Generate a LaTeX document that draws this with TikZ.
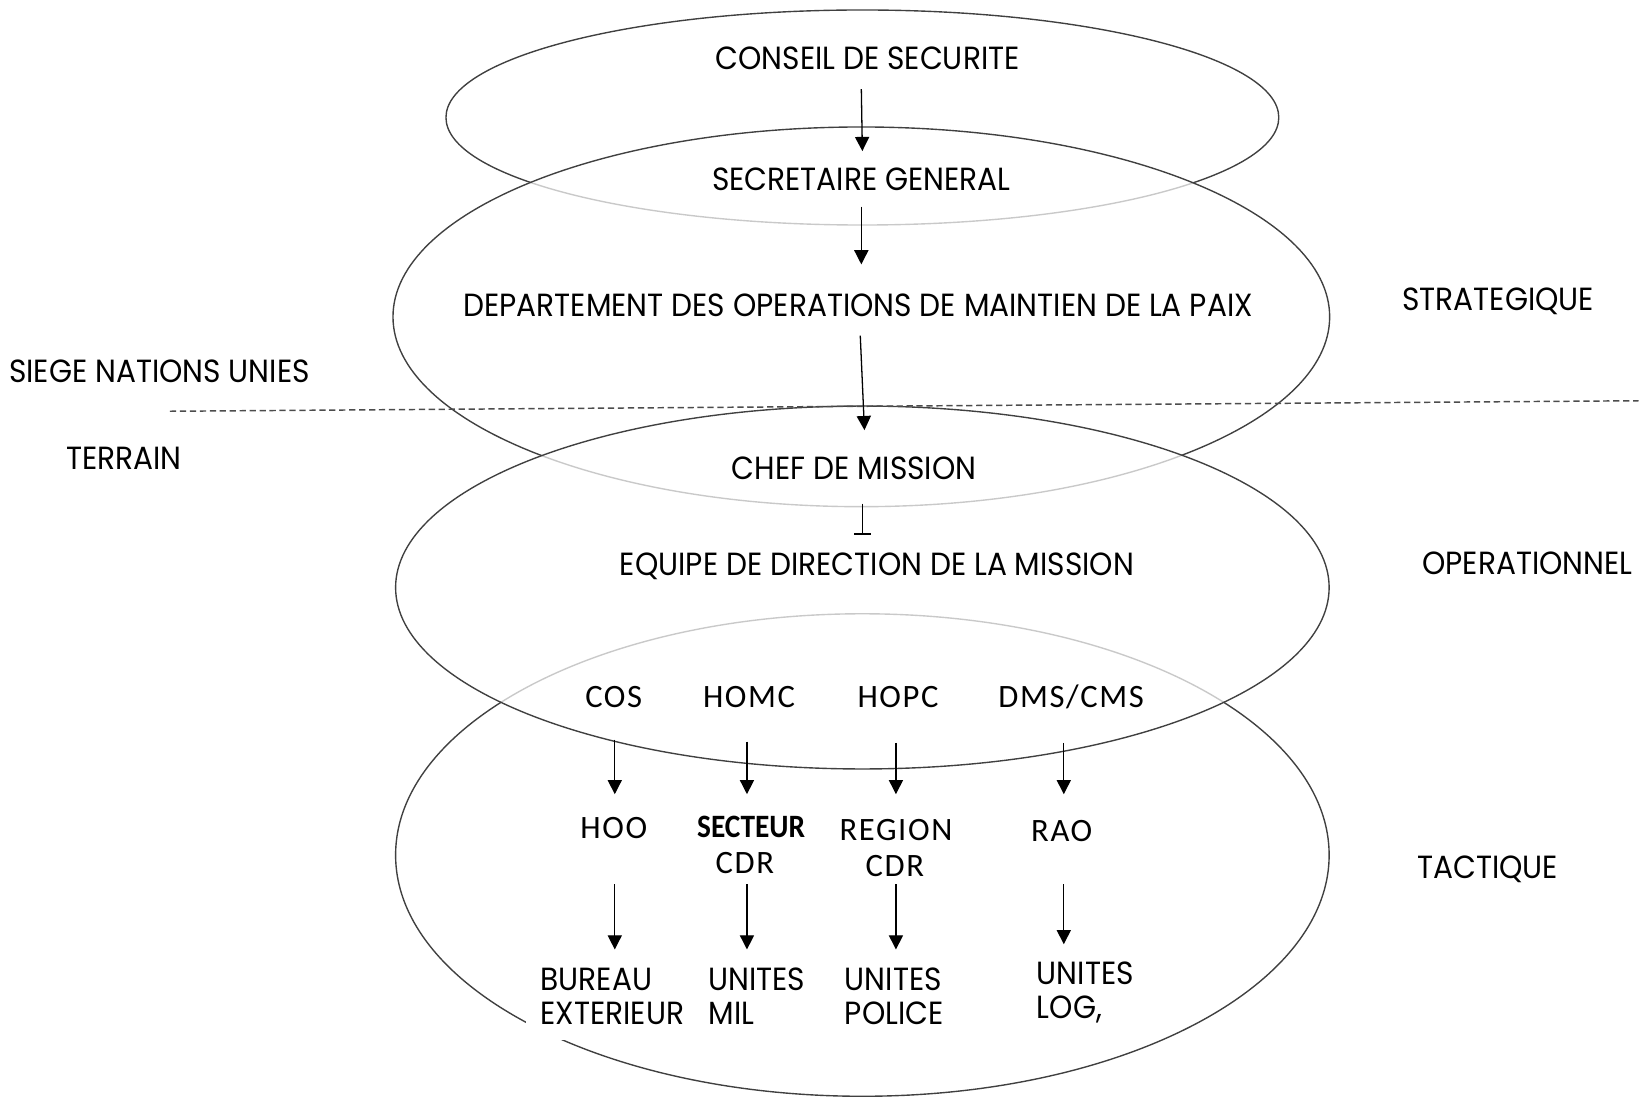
\documentclass[tikz,border=0pt]{standalone}
\usepackage{fontspec}
\setmainfont{Poppins}
\newfontfamily\gothic[FakeStretch=0.925]{Poppins}
\newfontfamily\calib[LetterSpace=5]{Carlito}
\newfontfamily\calibb[FakeStretch=0.9]{Carlito}
\usetikzlibrary{arrows.meta,calc}
\begin{document}
\begin{tikzpicture}[x=0.02cm,y=-0.02cm,
  ell/.style={draw=black!75, line width=0.75pt},
  veil/.style={fill=white, fill opacity=0.72},
  lbl/.style={font=\gothic\fontsize{17.4}{20}\selectfont, text height=12.1pt, text depth=0pt, inner sep=0pt},
  box/.style={lbl, fill=white},
  abbr/.style={font=\calib\fontsize{17.7}{20}\selectfont, text height=11.4pt, text depth=0pt, inner sep=0pt},
  abbrb/.style={abbr, font=\calibb\bfseries\fontsize{17.7}{20}\selectfont},
  blk/.style={font=\gothic\fontsize{17.4}{18.8}\selectfont, align=left, anchor=north west, inner sep=0pt},
  arr/.style={-{Triangle[width=0.27cm,length=0.27cm]}, line width=0.7pt, black},
  barr/.style={-{Bar[width=0.32cm,line width=0.9pt]}, line width=0.7pt, black},
  sep/.style={draw=black!70, line width=0.8pt, dash pattern=on 3.4pt off 2pt}]
\useasboundingbox (0,0) rectangle (1568,1047);
% level ellipses
\draw[ell] (822,112) ellipse [x radius=7.94cm, y radius=2.05cm];
\draw[ell, veil] (821,302) ellipse [x radius=8.93cm, y radius=3.62cm];
\draw[ell, veil] (822,815) ellipse [x radius=8.9cm, y radius=4.6cm];
\draw[ell, veil] (822,560) ellipse [x radius=8.9cm, y radius=3.46cm];
% strategic / operational chain
\node[lbl] (cs) at (827,56) {CONSEIL DE SECURITE};
\node[box, minimum width=6.54cm, minimum height=1.04cm] (sg) at (821,171) {SECRETAIRE GENERAL};
\node[box, minimum width=16cm, minimum height=1.02cm] (dp) at (818,291) {DEPARTEMENT DES OPERATIONS DE MAINTIEN DE LA PAIX};
\node[box, minimum width=5.6cm, minimum height=1.0cm] (cm) at (814,446) {CHEF DE MISSION};
\node[box, minimum width=10.76cm, minimum height=1.1cm] (eq) at (836,538) {EQUIPE DE DIRECTION DE LA MISSION};
% tactical rows
\node[abbr] (cos) at (585,664) {COS};
\node[abbr] (homc) at (714,664) {HOMC};
\node[abbr] (hopc) at (856,664) {HOPC};
\node[abbr] (dms) at (1021,664) {DMS/CMS};
\node[abbr] (hoo) at (585,789) {HOO};
\node[abbrb] (sect) at (716,788) {SECTEUR};
\node[abbr] (cdra) at (710,823) {CDR};
\node[abbr] (reg) at (854,791) {REGION};
\node[abbr] (cdrb) at (853,825) {CDR};
\node[abbr] (rao) at (1012,792) {RAO};
\node[blk, inner sep=0.28cm, fill=white] (be) at (501,908) {BUREAU\\EXTERIEUR};
\node[blk] (um) at (675,922) {UNITES\\MIL};
\node[blk] (up) at (805,922) {UNITES\\POLICE};
\node[blk] (ul) at (988,916) {UNITES\\LOG,};
% side labels
\node[lbl] (strat) at (1428,285) {STRATEGIQUE};
\node[lbl] (oper) at (1456,537) {OPERATIONNEL};
\node[lbl] (tact) at (1418,827) {TACTIQUE};
\node[lbl] (siege) at (152,354) {SIEGE NATIONS UNIES};
\node[lbl] (terr) at (118,437) {TERRAIN};
% connectors
\draw[arr] ($(cs)+(-6,29)$) -- ($(sg)+(1,-27)$);
\draw[arr] ($(sg)+(0,26)$) -- ($(dp)+(3,-39)$);
\draw[arr] ($(dp)+(2,29)$) -- ($(cm)+(10,-36)$);
\draw[barr] ($(cm)+(8,34)$) -- ($(eq)+(-14,-28)$);
\draw[arr] ($(cos)+(1,41)$) -- ($(hoo)+(1,-32)$);
\draw[arr] ($(homc)+(-2,43)$) -- ($(sect)+(-4,-31)$);
\draw[arr] ($(hopc)+(-2,44)$) -- ($(reg)+(0,-34)$);
\draw[arr] ($(dms)+(-7,44)$) -- ($(rao)+(2,-35)$);
\draw[arr] ($(hoo)+(1,54)$) -- ($(be.north west)+(85,-3)$);
\draw[arr] ($(cdra)+(2,20)$) -- ($(um.north west)+(37,-17)$);
\draw[arr] ($(cdrb)+(1,18)$) -- ($(up.north west)+(49,-17)$);
\draw[arr] ($(rao)+(2,51)$) -- ($(ul.north west)+(26,-16)$);
% HQ / field divide
\coordinate (dl) at (162,392);
\coordinate (dr) at (1562,382);
\draw[sep] (dl) -- (dr);
\end{tikzpicture}
\end{document}
